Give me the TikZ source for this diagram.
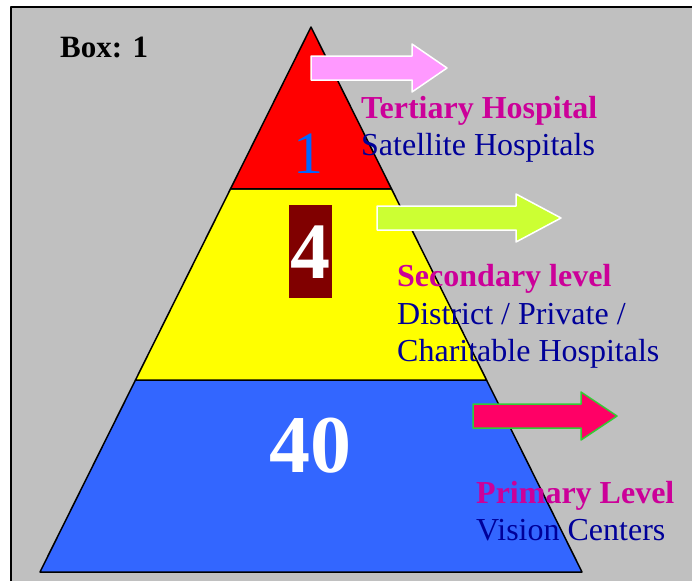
\documentclass[tikz,border=0pt]{standalone}
\usepackage{fontspec}
\setmainfont{Liberation Serif}
\usetikzlibrary{calc}
\definecolor{boxgray}{HTML}{C0C0C0}
\definecolor{topred}{HTML}{FF0000}
\definecolor{midyellow}{HTML}{FFFF00}
\definecolor{baseblue}{HTML}{3366FF}
\definecolor{onecolor}{HTML}{0066FF}
\definecolor{headmagenta}{HTML}{CC0099}
\definecolor{subnavy}{HTML}{000099}
\definecolor{pinkarrow}{HTML}{FF99FF}
\definecolor{limearrow}{HTML}{CCFF33}
\definecolor{rosearrow}{HTML}{FF0066}
\definecolor{arrowgreen}{HTML}{33CC33}
\definecolor{fourbox}{HTML}{800000}
\tikzset{
  pics/level arrow/.style 2 args={
    code={
      \path[pic actions](0,-12)--(#2,-12)--(#2,-24)--(#1,0)--(#2,24)--(#2,12)--(0,12)--cycle;
    }
  },
  heading/.style={anchor=base west,inner sep=0pt,text=headmagenta,
    font=\fontsize{32}{37}\selectfont\bfseries},
  subline/.style={anchor=base west,inner sep=0pt,text=subnavy,
    font=\fontsize{32}{37}\selectfont},
  bignum/.style={anchor=base,inner sep=0pt}
}
\begin{document}
\begin{tikzpicture}[x=1pt,y=-1pt,line join=round]
\useasboundingbox(0,0)rectangle(692,581);
%grey box with its frame
\fill[boxgray](10,7)rectangle(692,581);
\draw[line width=2pt](11,581)--(11,7)--(692,7);
\node[anchor=base west,inner sep=0pt,font=\fontsize{31}{36}\selectfont\bfseries](boxtitle)at(60,57){Box: 1};
%pyramid
\coordinate(apex)at(311,27);
\coordinate(bl)at(40,572);
\coordinate(br)at(582,572);
\coordinate(tl)at($(apex)!0.297!(bl)$);
\coordinate(tr)at($(apex)!0.297!(br)$);
\coordinate(ml)at($(apex)!0.648!(bl)$);
\coordinate(mr)at($(apex)!0.648!(br)$);
\begin{scope}[line width=1.5pt]
\filldraw[fill=baseblue](ml)--(mr)--(br)--(bl)--cycle;
\filldraw[fill=midyellow](tl)--(tr)--(mr)--(ml)--cycle;
\filldraw[fill=topred](apex)--(tr)--(tl)--cycle;
\end{scope}
%block arrows
\pic[fill=pinkarrow,draw=white,line width=1.5pt]at(311,68){level arrow={136}{101}};
\pic[fill=limearrow,draw=white,line width=1.5pt]at(377,218){level arrow={184}{139}};
\pic[fill=rosearrow,draw=arrowgreen,line width=1.5pt]at(473,416){level arrow={144}{108}};
%numbers in the levels
\node[bignum,text=onecolor,font=\fontsize{60}{60}\selectfont](one)at(308,173){1};
\fill[fourbox](289,205)rectangle(332,298);
\node[bignum,text=white,font=\fontsize{80}{80}\selectfont\bfseries](four)at(310,278){4};
\node[bignum,text=white,font=\fontsize{82}{82}\selectfont\bfseries](forty)at(310,472){40};
%labels
\node[heading](tertiary)at(361,118){Tertiary Hospital};
\node[subline](satellite)at(361,155){Satellite Hospitals};
\node[heading](secondary)at(397,286){Secondary level};
\node[subline](district)at(397,324){District / Private /};
\node[subline](charitable)at(397,361){Charitable Hospitals};
\node[heading](primary)at(476,503){Primary Level};
\node[subline](vision)at(476,540){Vision Centers};
\end{tikzpicture}
\end{document}
